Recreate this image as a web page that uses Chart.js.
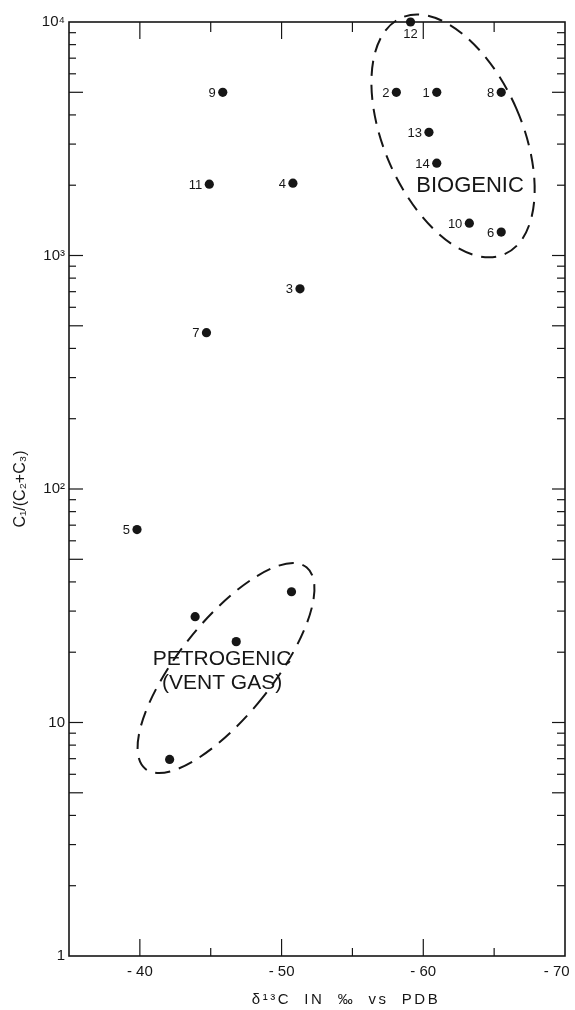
<!DOCTYPE html>
<html>
<head>
<meta charset="utf-8">
<script src="https://cdn.jsdelivr.net/npm/chart.js@4.4.1/dist/chart.umd.min.js"></script>
<style>
html,body{margin:0;padding:0;background:#fff;}
#wrap{width:575px;height:1010px;position:relative;}
</style>
</head>
<body>
<div id="wrap"><canvas id="c"></canvas></div>
<script>
// ---- data ----
const sampleIds      = ['1','2','3','4','5','6','7','8','9','10','11','12','13','14'];
const sampleDelta13C = [-60.95,-58.1,-51.3,-50.8,-39.8,-65.5,-44.7,-65.5,-45.85,-63.25,-44.9,-59.1,-60.4,-60.95];
const sampleRatio    = [5000,5000,720,2040,67,1260,467,5000,5000,1375,2020,10000,3370,2485];

const ventDelta13C = [-50.7,-43.9,-46.8,-42.1];
const ventRatio    = [36.3,28.4,22.2,6.95];

const xTickValues = [-40,-45,-50,-55,-60,-65,-70];
const xTickLabels = ['- 40','','- 50','','- 60','','- 70    '];
const yDecades      = [1,10,100,1000,10000];
const yDecadeLabels = ['1','10','10\u00B2','10\u00B3','10\u2074'];

const regionNames   = ['BIOGENIC','PETROGENIC|(VENT GAS)'];
const regionCenterX = [-62.1,-46.08];
const regionCenterY = [3251,17.1];
const regionLabelX  = [-63.3,-45.8];
const regionLabelY  = [1986,16.6];

const xTitle = '\u03B4\u00B9\u00B3C  IN  \u2030  vs  PDB';
const yTitle = 'C\u2081/(C\u2082+C\u2083)';

// ---- styling / geometry (not data) ----
const FONT = "'Liberation Sans', Arial, sans-serif";
const INK = '#161616';
const ellipseShapes = [
  {rx:69, ry:129, rot:-23.6},
  {rx:47, ry:129, rot:38.6}
];

function yMinorTicks(){
  const out=[];
  for(let e=0;e<4;e++){ for(let m=1;m<10;m++){ out.push(m*Math.pow(10,e)); } }
  out.push(10000);
  return out;
}
function isLongY(v){
  const e=Math.floor(Math.log10(v)+1e-9);
  const m=v/Math.pow(10,e);
  return Math.abs(m-1)<1e-6 || Math.abs(m-5)<1e-6;
}

const framePlugin = {
  id:'frameTicks',
  afterDraw(chart){
    const {ctx, chartArea:a, scales:{x,y}} = chart;
    ctx.save();
    ctx.strokeStyle=INK;
    ctx.lineWidth=1.6;
    ctx.strokeRect(a.left,a.top,a.right-a.left,a.bottom-a.top);
    ctx.lineWidth=1.2;
    const ln=(x1,y1,x2,y2)=>{ctx.beginPath();ctx.moveTo(x1,y1);ctx.lineTo(x2,y2);ctx.stroke();};
    x.ticks.forEach(t=>{
      const px=x.getPixelForValue(t.value);
      if(px<=a.left+1||px>=a.right-1) return;
      const long = t.value%10===0;
      ln(px,a.bottom,px,a.bottom-(long?17:8));
      ln(px,a.top,px,a.top+(long?17:10));
    });
    y.ticks.forEach(t=>{
      const py=y.getPixelForValue(t.value);
      if(py<=a.top+1||py>=a.bottom-1) return;
      const long=isLongY(t.value);
      ln(a.left,py,a.left+(long?14:7),py);
      ln(a.right,py,a.right-(long?13:8),py);
    });
    ctx.restore();
  },
  beforeDatasetsDraw(chart){
    const {ctx, scales:{x,y}} = chart;
    ctx.save();
    ctx.strokeStyle=INK;
    ctx.lineWidth=2;
    ctx.setLineDash([15,9]);
    ellipseShapes.forEach((s,i)=>{
      const cx=x.getPixelForValue(regionCenterX[i]);
      const cy=y.getPixelForValue(regionCenterY[i]);
      ctx.beginPath();
      ctx.ellipse(cx,cy,s.rx,s.ry,s.rot*Math.PI/180,0,Math.PI*2);
      ctx.stroke();
    });
    ctx.restore();
  },
  afterDatasetsDraw(chart){
    const {ctx, scales:{x,y}} = chart;
    ctx.save();
    ctx.fillStyle=INK;
    ctx.font='13px '+FONT;
    const meta=chart.getDatasetMeta(0);
    meta.data.forEach((pt,i)=>{
      const id=sampleIds[i];
      if(id==='12'){
        ctx.textAlign='center'; ctx.textBaseline='top';
        ctx.fillText(id,pt.x,pt.y+6);
      } else {
        ctx.textAlign='right'; ctx.textBaseline='middle';
        ctx.fillText(id,pt.x-7,pt.y+1);
      }
    });
    regionNames.forEach((name,i)=>{
      const lines=name.split('|');
      const px=x.getPixelForValue(regionLabelX[i]);
      const py=y.getPixelForValue(regionLabelY[i]);
      ctx.font=(i===0?'22px ':'21px ')+FONT;
      ctx.textAlign='center'; ctx.textBaseline='middle';
      const lh=24;
      lines.forEach((l,k)=>{
        ctx.fillText(l,px,py+(k-(lines.length-1)/2)*lh);
      });
    });
    ctx.font='15px '+FONT;
    ctx.textAlign='center'; ctx.textBaseline='middle';
    try{ctx.letterSpacing='2.5px';}catch(e){}
    ctx.fillText(xTitle,346,1000);
    ctx.restore();
  }
};

new Chart(document.getElementById('c'),{
  type:'scatter',
  data:{
    datasets:[
      {label:'Samples', data:sampleDelta13C.map((v,i)=>({x:v,y:sampleRatio[i]})),
       backgroundColor:INK, borderWidth:0, pointRadius:4.6, clip:false},
      {label:'Vent gas', data:ventDelta13C.map((v,i)=>({x:v,y:ventRatio[i]})),
       backgroundColor:INK, borderWidth:0, pointRadius:4.6, clip:false}
    ]
  },
  options:{
    responsive:true, maintainAspectRatio:false, animation:false,
    devicePixelRatio:1,
    layout:{padding:{top:22,right:10,left:0,bottom:0}},
    plugins:{legend:{display:false},tooltip:{enabled:false}},
    scales:{
      x:{
        type:'linear', min:-70, max:-35, reverse:true,
        grid:{display:false,drawTicks:false}, border:{display:false},
        afterBuildTicks(s){ s.ticks=xTickValues.map(v=>({value:v})); },
        afterFit(s){ s.height=54; s.paddingRight=0; s.paddingLeft=0; },
        ticks:{autoSkip:false, maxRotation:0, padding:7, color:INK,
          font:{family:FONT,size:15},
          callback(v){ const i=xTickValues.indexOf(v); return i>=0?xTickLabels[i]:''; }}
      },
      y:{
        type:'logarithmic', min:1, max:10000,
        grid:{display:false,drawTicks:false}, border:{display:false},
        afterBuildTicks(s){ s.ticks=yMinorTicks().map(v=>({value:v})); },
        afterFit(s){ s.width=69; s.paddingTop=0; s.paddingBottom=0; },
        title:{display:true,text:yTitle,color:INK,font:{family:FONT,size:16},padding:{top:11,bottom:0}},
        ticks:{autoSkip:false, padding:4, color:INK,
          font:{family:FONT,size:15},
          callback(v){ const i=yDecades.indexOf(v); return i>=0?yDecadeLabels[i]:''; }}
      }
    }
  },
  plugins:[framePlugin]
});
</script>
</body>
</html>
